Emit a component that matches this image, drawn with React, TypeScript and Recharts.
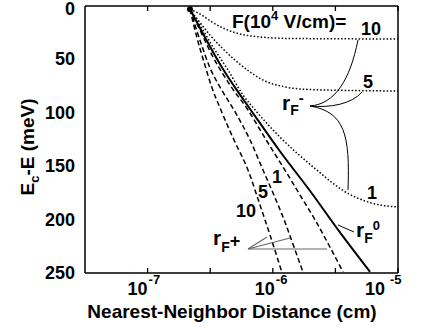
import React from 'react';
import { LineChart, Line, XAxis, YAxis, ReferenceDot } from 'recharts';

const W = 422;
const H = 329;
const FONT = '"Liberation Sans", Arial, Helvetica, sans-serif';

// ---- data: nearest-neighbor distance r (cm) vs Ec-E (meV) ----
const startR = 2.18e-7;
const startE = 3;

// r_F^0 (solid)
const rF0R = [2.18e-7, 2.62e-7, 3.33e-7, 4.15e-7, 5.18e-7, 6.82e-7, 1.14e-6, 1.98e-6, 3.44e-6, 5.98e-6];
const rF0E = [3, 20.6, 43, 62, 79, 99, 136, 173, 212, 249];

// r_F^+ (dashed), F = 10, 5, 1 (10^4 V/cm)
const rFp10R = [2.18e-7, 2.48e-7, 2.82e-7, 3.21e-7, 3.79e-7, 4.9e-7, 6.34e-7, 7.9e-7, 9.5e-7, 1.18e-6];
const rFp10E = [3, 29.9, 52.4, 74, 95.5, 125.5, 153.6, 186.3, 214.4, 249];
const rFp5R = [2.18e-7, 2.62e-7, 3.15e-7, 3.79e-7, 4.99e-7, 6.58e-7, 8.35e-7, 1.02e-6, 1.25e-6, 1.477e-6, 1.74e-6];
const rFp5E = [3, 32, 58, 76, 99, 125.5, 153.6, 177, 202.2, 225.7, 249];
const rFp1R = [2.18e-7, 2.62e-7, 3.27e-7, 4.55e-7, 6.34e-7, 8.66e-7, 1.25e-6, 1.65e-6, 2.17e-6, 2.81e-6, 3.64e-6];
const rFp1E = [3, 22.5, 46, 74, 97.4, 123.6, 153.6, 177, 200, 224, 249];

// r_F^- (dotted), F = 1, 5, 10 (10^4 V/cm)
const rFm1R = [2.18e-7, 2.62e-7, 3.33e-7, 4.39e-7, 5.78e-7, 7.34e-7, 1.14e-6, 2.1e-6, 3.92e-6, 5.45e-6, 7.18e-6, 1e-5];
const rFm1E = [3, 17.8, 38.4, 60, 83.3, 98.3, 122.7, 150.7, 175, 182.6, 186.3, 188.2];
const rFm5R = [2.18e-7, 2.53e-7, 3.15e-7, 3.93e-7, 4.99e-7, 6.58e-7, 8.66e-7, 1.25e-6, 1.98e-6, 4.14e-6, 1e-5];
const rFm5E = [3, 13.1, 27.2, 39.3, 50.6, 61.8, 70.2, 75.8, 78.2, 79.1, 79.6];
const rFm10R = [2.18e-7, 2.62e-7, 3.27e-7, 4.15e-7, 5.47e-7, 7.9e-7, 1.37e-6, 1e-5];
const rFm10E = [3, 7.5, 15, 21.5, 26.2, 29, 30.4, 30.9];

// axes
const xDomain = [Math.pow(10, -7.5), 1e-5];
const xTicks = [1e-7, Math.pow(10, -6.5), 1e-6, Math.pow(10, -5.5), 1e-5];
const yTicks = [0, 50, 100, 150, 200, 250];
const yRightTicks = [50, 100, 150, 200];

const zip = (rs: number[], es: number[]) => rs.map((r, i) => ({ r, e: es[i] }));

const XTickBottom = (props: any) => {
  const { x, y, payload } = props;
  const exp = Math.round(Math.log10(payload.value) * 2) / 2;
  const major = Number.isInteger(exp);
  const shift: Record<string, number> = { '-7': 0, '-6': 2, '-5': -13 };
  const gap: Record<string, number> = { '-7': 1, '-6': 1, '-5': 5 };
  const k = String(exp);
  return (
    <g>
      <line x1={x} x2={x} y1={y} y2={y - 5} stroke="#000" strokeWidth={1.3} />
      {major && (
        <g fontFamily={FONT} fontWeight="bold" fill="#000">
          <text x={x + (shift[k] || 0)} y={y + 22} fontSize={18} textAnchor="end">10</text>
          <text x={x + (shift[k] || 0) + (gap[k] || 1)} y={y + 11} fontSize={13} textAnchor="start">{k}</text>
        </g>
      )}
    </g>
  );
};

const XTickTop = (props: any) => {
  const { x, y } = props;
  return <line x1={x} x2={x} y1={y} y2={y + 5} stroke="#000" strokeWidth={1.3} />;
};

const YTickLeft = (props: any) => {
  const { x, y, payload } = props;
  const dy = payload.value === 0 ? 3 : 0;
  return (
    <text x={x - 10} y={y + 6 + dy} fontSize={18} fontFamily={FONT} fontWeight="bold" textAnchor="end" fill="#000">
      {payload.value}
    </text>
  );
};

const YTickRight = (props: any) => {
  const { x, y } = props;
  return <line x1={x} x2={x - 5} y1={y} y2={y} stroke="#000" strokeWidth={1.3} />;
};

export default function App() {
  const axisLine = { stroke: '#000', strokeWidth: 1.5 };
  return (
    <div style={{ position: 'absolute', left: 0, top: 0, width: W, height: H, background: '#fff' }}>
      <LineChart width={W} height={H} margin={{ top: 0, right: 0, bottom: 0, left: 0 }}>
        <XAxis
          dataKey="r"
          type="number"
          scale="log"
          domain={xDomain}
          allowDataOverflow
          ticks={xTicks}
          interval={0}
          height={56}
          tickSize={0}
          tickMargin={0}
          tickLine={false}
          axisLine={axisLine}
          tick={<XTickBottom />}
        />
        <XAxis
          xAxisId="top"
          orientation="top"
          dataKey="r"
          type="number"
          scale="log"
          domain={xDomain}
          allowDataOverflow
          ticks={xTicks}
          interval={0}
          height={6}
          tickSize={0}
          tickMargin={0}
          tickLine={false}
          axisLine={axisLine}
          tick={<XTickTop />}
        />
        <YAxis
          type="number"
          domain={[0, 250]}
          reversed
          ticks={yTicks}
          interval={0}
          width={85}
          tickSize={0}
          tickMargin={0}
          tickLine={false}
          axisLine={axisLine}
          tick={<YTickLeft />}
        />
        <YAxis
          yAxisId="right"
          orientation="right"
          type="number"
          domain={[0, 250]}
          reversed
          ticks={yRightTicks}
          interval={0}
          width={24}
          tickSize={0}
          tickMargin={0}
          tickLine={false}
          axisLine={axisLine}
          tick={<YTickRight />}
        />
        <Line data={zip(rF0R, rF0E)} dataKey="e" type="monotone" stroke="#000" strokeWidth={2} dot={false} isAnimationActive={false} />
        <Line data={zip(rFp10R, rFp10E)} dataKey="e" type="monotone" stroke="#000" strokeWidth={1.5} strokeDasharray="5 3" dot={false} isAnimationActive={false} />
        <Line data={zip(rFp5R, rFp5E)} dataKey="e" type="monotone" stroke="#000" strokeWidth={1.5} strokeDasharray="5 3" dot={false} isAnimationActive={false} />
        <Line data={zip(rFp1R, rFp1E)} dataKey="e" type="monotone" stroke="#000" strokeWidth={1.5} strokeDasharray="5 3" dot={false} isAnimationActive={false} />
        <Line data={zip(rFm1R, rFm1E)} dataKey="e" type="monotone" stroke="#000" strokeWidth={1.5} strokeDasharray="1.5 2" dot={false} isAnimationActive={false} />
        <Line data={zip(rFm5R, rFm5E)} dataKey="e" type="monotone" stroke="#000" strokeWidth={1.5} strokeDasharray="1.5 2" dot={false} isAnimationActive={false} />
        <Line data={zip(rFm10R, rFm10E)} dataKey="e" type="monotone" stroke="#000" strokeWidth={1.5} strokeDasharray="1.5 2" dot={false} isAnimationActive={false} />
        <ReferenceDot x={startR} y={startE} r={3} fill="#000" stroke="none" />
      </LineChart>
      <svg
        width={W}
        height={H}
        style={{ position: 'absolute', left: 0, top: 0, pointerEvents: 'none' }}
        fontFamily={FONT}
        fontWeight="bold"
        fill="#000"
      >
        {/* axis titles */}
        <text x={232} y={318} fontSize={19} textAnchor="middle">Nearest-Neighbor Distance (cm)</text>
        <text transform="translate(34,147) rotate(-90)" fontSize={19} textAnchor="middle">
          E<tspan fontSize={13} dy={5}>c</tspan><tspan dy={-5}>-E (meV)</tspan>
        </text>

        {/* field legend */}
        <text x={232} y={28} fontSize={19}>
          F(10<tspan fontSize={13} dy={-8}>4</tspan><tspan dy={8}> V/cm)=</tspan>
        </text>
        <text x={371} y={35} fontSize={18} textAnchor="middle">10</text>
        <text x={368} y={88} fontSize={18} textAnchor="middle">5</text>
        <text x={372} y={199} fontSize={18} textAnchor="middle">1</text>

        {/* r_F^- label and leaders */}
        <text x={282} y={110} fontSize={21}>
          r<tspan fontSize={14} dy={5}>F</tspan><tspan fontSize={15} dy={-12}>-</tspan>
        </text>
        <g fill="none" stroke="#000" strokeWidth={1}>
          <path d="M310,106 C335,104 350,80 358,40" />
          <path d="M310,106 C330,108 352,104 362,92" />
          <path d="M310,106 C345,112 350,135 348,190" />
        </g>

        {/* r_F^+ label, curve labels and leaders */}
        <text x={246} y={217} fontSize={18} textAnchor="middle">10</text>
        <text x={263} y={198} fontSize={18} textAnchor="middle">5</text>
        <text x={277} y={183} fontSize={18} textAnchor="middle">1</text>
        <text x={213} y={245} fontSize={21}>
          r<tspan fontSize={14} dy={7}>F</tspan><tspan fontSize={18} dy={-5}>+</tspan>
        </text>
        <g fill="none" stroke="#666" strokeWidth={1.2}>
          <line x1={248} y1={249} x2={267} y2={237} />
          <line x1={248} y1={249} x2={290} y2={238} />
          <line x1={248} y1={249} x2={327} y2={249} />
        </g>

        {/* r_F^0 label and leader */}
        <text x={356} y={237} fontSize={21}>
          r<tspan fontSize={14} dy={6}>F</tspan><tspan fontSize={13} dy={-13}>0</tspan>
        </text>
        <line x1={338} y1={225} x2={354} y2={232} stroke="#000" strokeWidth={1} />
      </svg>
    </div>
  );
}
